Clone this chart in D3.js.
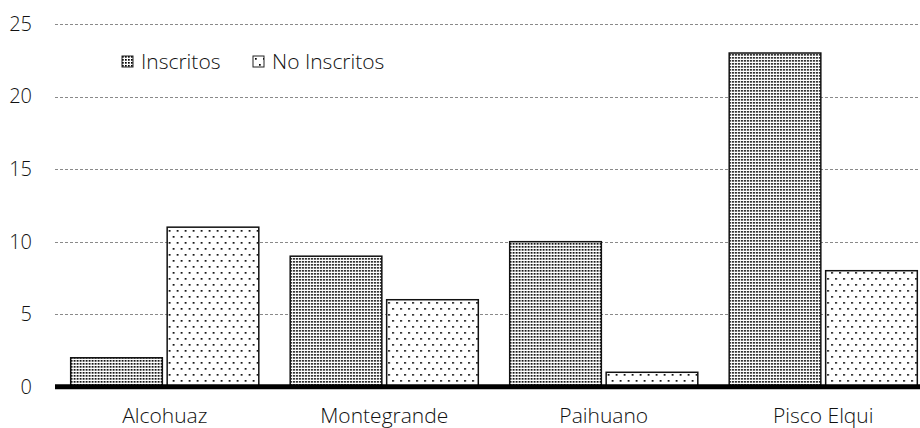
<!DOCTYPE html>
<html>
<head>
<meta charset="utf-8">
<script src="https://cdn.jsdelivr.net/npm/d3@7"></script>
<style>
  body { margin: 0; background: #fff; }
  text { font-family: "Open Sans", sans-serif; font-weight: 300; fill: #111; }
</style>
</head>
<body>
<svg></svg>
<script>
// chart data
const categories = ['Alcohuaz', 'Montegrande', 'Paihuano', 'Pisco Elqui'];
const seriesNames = ['Inscritos', 'No Inscritos'];
const inscritos = [2, 9, 10, 23];
const noInscritos = [11, 6, 1, 8];
const yTicks = [0, 5, 10, 15, 20, 25];

const size = {w: 920, h: 428};
const svg = d3.select('svg')
    .attr('width', size.w)
    .attr('height', size.h);

// patterns that mimic the excel dot fills
const defs = svg.append('defs');
const dense = defs.append('pattern')
    .attr('id', 'dense')
    .attr('patternUnits', 'userSpaceOnUse')
    .attr('width', 3).attr('height', 3);
dense.append('rect').attr('width', 3).attr('height', 3).attr('fill', '#fff');
dense.append('rect').attr('width', 1.7).attr('height', 1.7).attr('fill', '#000');

const sparse = defs.append('pattern')
    .attr('id', 'sparse')
    .attr('patternUnits', 'userSpaceOnUse')
    .attr('width', 8).attr('height', 12);
sparse.append('rect').attr('width', 8).attr('height', 12).attr('fill', '#fff');
sparse.append('rect').attr('x', 2).attr('y', 2).attr('width', 1.7).attr('height', 1.7).attr('fill', '#000');
sparse.append('rect').attr('x', 6).attr('y', 8).attr('width', 1.7).attr('height', 1.7).attr('fill', '#000');

const fills = {'Inscritos': 'url(#dense)', 'No Inscritos': 'url(#sparse)'};

// scales
const x0 = d3.scaleBand()
    .domain(categories)
    .range([55, 933])
    .paddingInner(0.143)
    .paddingOuter(0.0715);

const x1 = d3.scaleBand()
    .domain(seriesNames)
    .range([0, x0.bandwidth()])
    .paddingInner(0.05);

const y = d3.scaleLinear()
    .domain([0, 25])
    .range([386.8, 24]);

// gridlines
const gridG = svg.append('g').classed('grid', true);
gridG.selectAll('line')
    .data(yTicks.filter(d => d > 0))
    .join('line')
    .attr('x1', 55).attr('x2', size.w)
    .attr('y1', d => Math.round(y(d)) + 0.5)
    .attr('y2', d => Math.round(y(d)) + 0.5)
    .attr('stroke', '#8a8a8a')
    .attr('stroke-width', 1)
    .attr('stroke-dasharray', '3,2');

// y tick labels
const yAxis = d3.axisLeft(y).tickValues(yTicks).tickSize(0).tickPadding(0);
const yG = svg.append('g')
    .attr('transform', 'translate(32,0)')
    .call(yAxis);
yG.select('.domain').remove();
yG.selectAll('text')
    .attr('font-size', 20)
    .attr('font-family', '"Open Sans", sans-serif')
    .attr('font-weight', 300)
    .attr('fill', '#111');

// bars
const rows = categories.map((c, i) => ({
    cat: c,
    values: [
        {key: 'Inscritos', v: inscritos[i]},
        {key: 'No Inscritos', v: noInscritos[i]}
    ]
}));

const barsG = svg.append('g').classed('bars', true);
barsG.selectAll('g')
    .data(rows)
    .join('g')
    .attr('transform', d => `translate(${x0(d.cat)},0)`)
    .selectAll('rect')
    .data(d => d.values)
    .join('rect')
    .attr('x', d => x1(d.key))
    .attr('y', d => y(d.v))
    .attr('width', x1.bandwidth())
    .attr('height', d => y(0) - y(d.v))
    .attr('fill', d => fills[d.key])
    .attr('stroke', '#111')
    .attr('stroke-width', 1.5);

// thick zero line
svg.append('line')
    .attr('x1', 55).attr('x2', size.w)
    .attr('y1', y(0)).attr('y2', y(0))
    .attr('stroke', '#000')
    .attr('stroke-width', 5);

// category labels
const xAxis = d3.axisBottom(x0).tickSize(0).tickPadding(0);
const xG = svg.append('g')
    .attr('transform', 'translate(0,408)')
    .call(xAxis);
xG.select('.domain').remove();
xG.selectAll('text')
    .attr('font-size', 21)
    .attr('font-family', '"Open Sans", sans-serif')
    .attr('font-weight', 300)
    .attr('fill', '#111');

// legend
const legend = svg.append('g').classed('legend', true);
const legendItems = [
    {key: 'Inscritos', x: 122},
    {key: 'No Inscritos', x: 253}
];
const li = legend.selectAll('g')
    .data(legendItems)
    .join('g')
    .attr('transform', d => `translate(${d.x},56)`);
li.append('rect')
    .attr('width', 11).attr('height', 11)
    .attr('fill', d => fills[d.key])
    .attr('stroke', '#222')
    .attr('stroke-width', 1);
li.append('text')
    .attr('x', 19)
    .attr('y', 6)
    .attr('dy', '0.35em')
    .attr('font-size', 21)
    .text(d => d.key);
</script>
</body>
</html>
